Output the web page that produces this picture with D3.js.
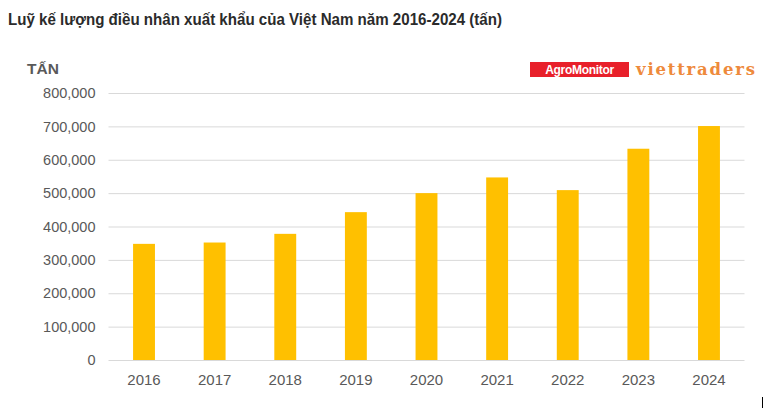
<!DOCTYPE html>
<html><head><meta charset="utf-8">
<script src="https://cdn.jsdelivr.net/npm/d3@7"></script>
<style>body{margin:0;background:#fff}svg{display:block}</style>
</head><body>
<svg id="c" width="784" height="409"></svg>
<script>
const years = ["2016","2017","2018","2019","2020","2021","2022","2023","2024"];
const values = [348000, 352000, 378000, 443000, 500000, 547000, 509000, 633000, 701000];
const yTicks = [0,100000,200000,300000,400000,500000,600000,700000,800000];

const svg = d3.select("#c");
const x = d3.scaleBand().domain(years).range([108.7, 744.3]).paddingInner(0.69).paddingOuter(0.345);
const y = d3.scaleLinear().domain([0, 800000]).range([360, 93]);

svg.append("text").attr("x", 8).attr("y", 25).attr("font-family", "Liberation Sans, Arial, sans-serif")
  .attr("font-weight", "bold").attr("font-size", 16).attr("fill", "#2b2b2b")
  .attr("textLength", 494).attr("lengthAdjust", "spacingAndGlyphs")
  .text("Luỹ kế lượng điều nhân xuất khẩu của Việt Nam năm 2016-2024 (tấn)");

svg.append("text").attr("x", 27).attr("y", 74).attr("font-family", "Liberation Sans, Arial, sans-serif")
  .attr("font-weight", "bold").attr("font-size", 15.5).attr("fill", "#595959").text("TẤN");

// grid
const yAxis = d3.axisLeft(y).tickValues(yTicks).tickSize(-(744.5-108.5)).tickPadding(13)
  .tickFormat(d => d3.format(",")(d));
const gy = svg.append("g").attr("transform", "translate(108.5,0)").call(yAxis);
gy.select(".domain").remove();
gy.selectAll(".tick line").attr("stroke", "#d9d9d9").attr("stroke-width", 1);
gy.selectAll(".tick text").attr("font-family", "Liberation Sans, Arial, sans-serif").attr("font-size", 14.5).attr("fill", "#595959");

svg.append("g").selectAll("rect").data(values).join("rect")
  .attr("x", (d,i) => x(years[i])).attr("width", x.bandwidth())
  .attr("y", d => y(d)).attr("height", d => y(0) - y(d)).attr("fill", "#ffc000");

const xAxis = d3.axisBottom(x).tickSize(0).tickPadding(14);
const gx = svg.append("g").attr("transform", "translate(0,360)").call(xAxis);
gx.select(".domain").remove();
gx.selectAll(".tick text").attr("font-family", "Liberation Sans, Arial, sans-serif").attr("font-size", 15).attr("fill", "#595959");

// logos
svg.append("rect").attr("x", 530).attr("y", 62).attr("width", 99).attr("height", 15).attr("fill", "#e8202a");
svg.append("text").attr("x", 579.5).attr("y", 74).attr("text-anchor", "middle").attr("font-family", "Liberation Sans, Arial, sans-serif")
  .attr("font-weight", "bold").attr("font-size", 12).attr("fill", "#fff").attr("letter-spacing", -0.3).text("AgroMonitor");
svg.append("text").attr("x", 636).attr("y", 75).attr("font-family", "DejaVu Serif, serif")
  .attr("font-weight", "bold").attr("font-size", 16.5).attr("fill", "#ee8a3c").attr("textLength", 119).text("viettraders");

svg.append("line").attr("x1", 762.5).attr("x2", 762.5).attr("y1", 397).attr("y2", 408).attr("stroke", "#000").attr("stroke-width", 1);
</script>
</body></html>
